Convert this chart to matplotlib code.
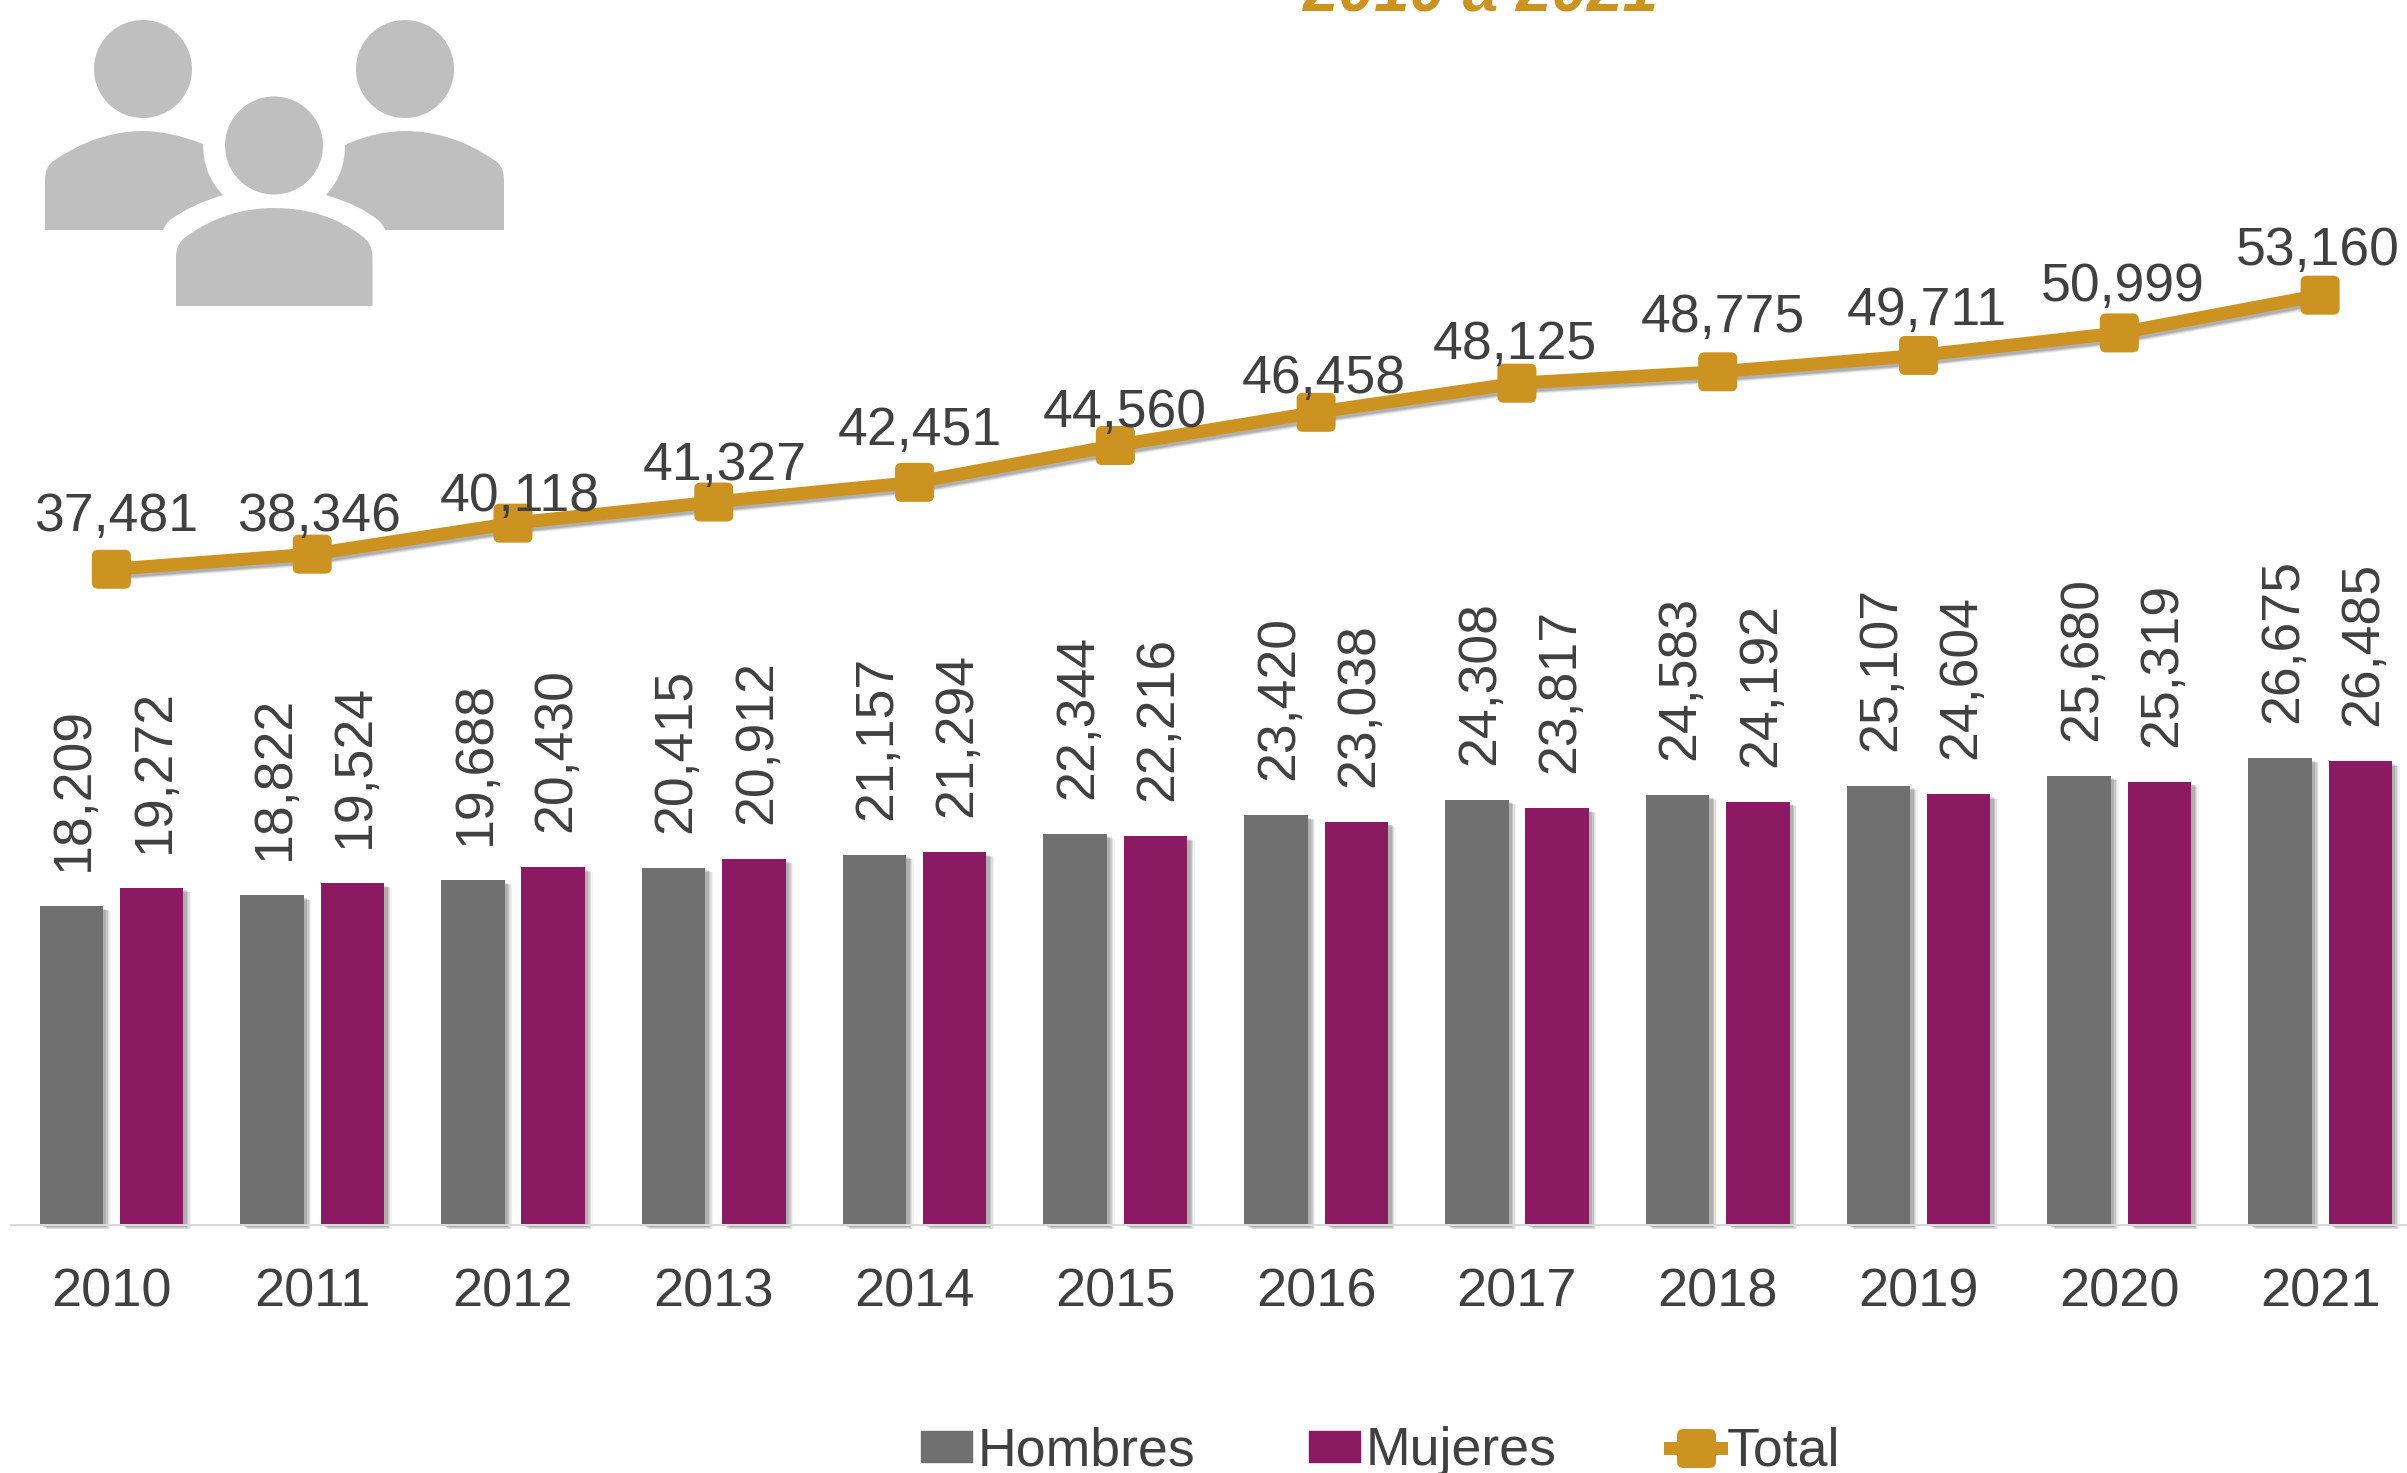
import matplotlib
matplotlib.use("Agg")
import matplotlib.pyplot as plt
import matplotlib.patheffects as pe
from matplotlib.lines import Line2D
from matplotlib.patches import Patch, Circle, PathPatch
from matplotlib.path import Path

plt.rcParams['font.family'] = ['Liberation Sans', 'DejaVu Sans']

years = [2010, 2011, 2012, 2013, 2014, 2015, 2016, 2017, 2018, 2019, 2020, 2021]
hombres = [18209, 18822, 19688, 20415, 21157, 22344, 23420, 24308, 24583, 25107, 25680, 26675]
mujeres = [19272, 19524, 20430, 20912, 21294, 22216, 23038, 23817, 24192, 24604, 25319, 26485]
total = [37481, 38346, 40118, 41327, 42451, 44560, 46458, 48125, 48775, 49711, 50999, 53160]

# the total labels were nudged by hand in the original, so each has its own offset (pixels)
total_label_dx = [4.5, 7, 7, 11, 5, 9, 8, -1.6, 5, 8, 3, -2.4]
total_label_dy = [38, 23, 12, 22, 37, 19, 19, 24, 40, 30, 32, 30]

GRAY = '#707070'
PURPLE = '#8B1A62'
GOLD = '#CC9320'
TEXT = '#404040'
ICON = '#BFBFBF'
PX = 0.72  # points per pixel at dpi 100


# Soft shadow made of a few stacked offsets, since matplotlib has no blur
def soft_shadow(patch=True):
    effects = []
    for dx, dy, a in [(5.5, -3.5, 0.05), (4.5, -3, 0.08), (3.5, -2.5, 0.10), (2.5, -2, 0.12)]:
        if patch:
            effects.append(pe.SimplePatchShadow(offset=(dx, dy), shadow_rgbFace='black', alpha=a))
        else:
            effects.append(pe.SimpleLineShadow(offset=(dx * 0.8, dy), shadow_color='black', alpha=a))
    effects.append(pe.Normal())
    return effects


# Square marker with rounded corners
def rounded_square(r=0.16):
    k = 0.5
    verts = [(-k + r, -k), (k - r, -k), (k, -k), (k, -k + r), (k, k - r), (k, k), (k - r, k),
             (-k + r, k), (-k, k), (-k, k - r), (-k, -k + r), (-k, -k), (-k + r, -k), (-k + r, -k)]
    codes = [Path.MOVETO, Path.LINETO, Path.CURVE3, Path.CURVE3, Path.LINETO, Path.CURVE3, Path.CURVE3,
             Path.LINETO, Path.CURVE3, Path.CURVE3, Path.LINETO, Path.CURVE3, Path.CURVE3, Path.CLOSEPOLY]
    return Path(verts, codes)


fig = plt.figure(figsize=(24.07, 14.73), dpi=100)

# Axes runs slightly past the right edge of the picture, like the cropped original
ax = fig.add_axes([11 / 2407, 248.5 / 1473, 2409.5 / 2407, 1224.5 / 1473])
x = list(range(len(years)))
bar_w = 0.316
offset = 0.2

bars_h = ax.bar([i - offset for i in x], hombres, bar_w, color=GRAY, zorder=2)
bars_m = ax.bar([i + offset for i in x], mujeres, bar_w, color=PURPLE, zorder=2)
for b in list(bars_h) + list(bars_m):
    b.set_path_effects(soft_shadow())
    b.set_clip_on(False)

marker = rounded_square()
ax.plot(x, total, color=GOLD, lw=13 * PX, marker=marker, ms=39 * PX, mew=0, zorder=4,
        solid_capstyle='butt', path_effects=soft_shadow(patch=False))

# Data labels
for i in x:
    ax.annotate(f'{hombres[i]:,}', (i - offset, hombres[i]), xytext=(3 * PX, 35 * PX), textcoords='offset points',
                rotation=90, ha='center', va='bottom', fontsize=38.5, color=TEXT, zorder=5)
    ax.annotate(f'{mujeres[i]:,}', (i + offset, mujeres[i]), xytext=(3 * PX, 35 * PX), textcoords='offset points',
                rotation=90, ha='center', va='bottom', fontsize=38.5, color=TEXT, zorder=5)
    ax.annotate(f'{total[i]:,}', (i, total[i]), xytext=(total_label_dx[i] * PX, total_label_dy[i] * PX),
                textcoords='offset points', ha='center', va='baseline', fontsize=38.5, color=TEXT, zorder=5)

ax.set_xlim(-0.5, 11.5)
ax.set_ylim(0, 70044)
ax.set_xticks(x)
ax.set_xticklabels(years, fontsize=39, color=TEXT)
ax.tick_params(axis='x', length=0, pad=31)
ax.set_yticks([])
for s in ['top', 'left', 'right']:
    ax.spines[s].set_visible(False)
ax.spines['bottom'].set_color('#D9D9D9')
ax.spines['bottom'].set_linewidth(2 * PX)
ax.patch.set_alpha(0)

handles = [Patch(color=GRAY, label='Hombres'), Patch(color=PURPLE, label='Mujeres'),
           Line2D([], [], color=GOLD, lw=13 * PX, marker=marker, ms=39 * PX, mew=0, label='Total')]
fig.legend(handles=handles, loc='lower left', bbox_to_anchor=(918 / 2407, -6 / 1473), bbox_transform=fig.transFigure,
           ncol=3, frameon=False, fontsize=38.6, labelcolor=TEXT, handlelength=0.95, handleheight=0.52,
           handletextpad=0.11, columnspacing=2.12, borderpad=0, borderaxespad=0.05)

# Title: only its last line is left in the crop
fig.text(1481 / 2407, 1 - 12 / 1473, '2010 a 2021', fontsize=46, fontweight='bold', fontstyle='italic',
         color=GOLD, ha='center', va='baseline')

# People icon drawn in pixel coordinates
icon = fig.add_axes([0, 0, 1, 1], zorder=-1)
icon.set_xlim(0, 2407)
icon.set_ylim(1473, 0)
icon.axis('off')
for cx, cy in [(143, 69), (405, 69), (274, 145.5)]:
    icon.add_patch(Circle((cx, cy), 49, fc=ICON, ec='none'))

C = Path.CURVE3
L = Path.LINETO
M = Path.MOVETO
left_body = Path(
    [(45, 230), (45, 180), (45, 165), (55, 160), (98, 131), (143, 131), (170, 131), (203, 144),
     (203, 175), (223, 195), (190, 205), (170, 220), (165, 224), (163, 230), (45, 230)],
    [M, L, C, C, C, C, C, C, C, C, C, C, C, C, L])
right_body = Path(
    [(504, 230), (504, 180), (504, 165), (494, 160), (452, 131), (405, 131), (375, 131), (345, 145),
     (345, 175), (326, 195), (360, 205), (378, 220), (383, 224), (385, 230), (504, 230)],
    [M, L, C, C, C, C, C, C, C, C, C, C, C, C, L])
center_body = Path(
    [(176, 306), (176, 257), (176, 243), (187, 236), (226, 208), (274, 208), (325, 208), (362, 236),
     (372.5, 243), (372.5, 257), (372.5, 306), (176, 306)],
    [M, L, C, C, C, C, C, C, C, C, L, L])
for p in [left_body, right_body, center_body]:
    icon.add_patch(PathPatch(p, fc=ICON, ec='none'))

fig.savefig('out.png', dpi=100, facecolor='white')
